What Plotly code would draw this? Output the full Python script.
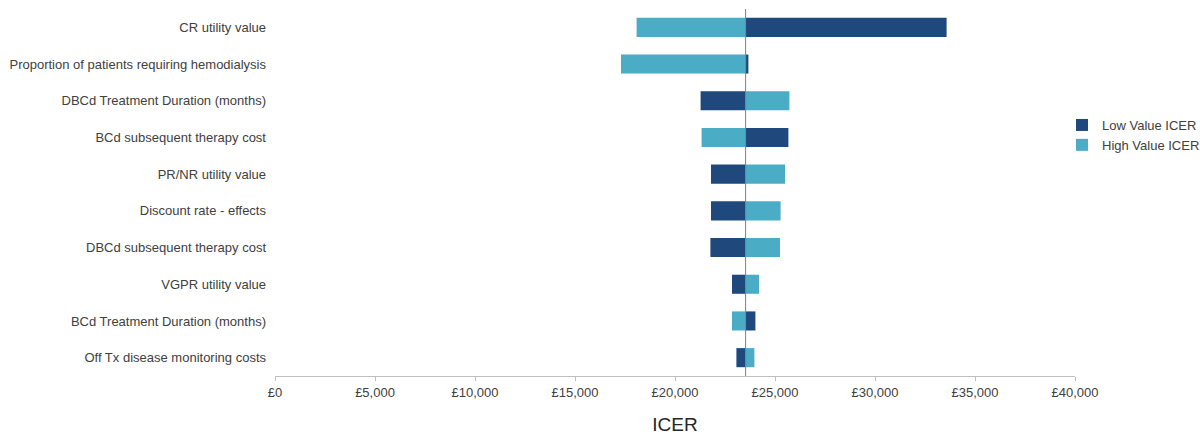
import plotly.graph_objects as go

# One-way sensitivity analysis (tornado) around the base-case ICER
parameters = [
    "CR utility value",
    "Proportion of patients requiring hemodialysis",
    "DBCd Treatment Duration (months)",
    "BCd subsequent therapy cost",
    "PR/NR utility value",
    "Discount rate - effects",
    "DBCd subsequent therapy cost",
    "VGPR utility value",
    "BCd Treatment Duration (months)",
    "Off Tx disease monitoring costs",
]
low_value_icer = [33580, 23670, 21280, 25670, 21800, 21800, 21770, 22850, 24020, 23070]
high_value_icer = [18080, 17300, 25720, 21330, 25500, 25280, 25250, 24200, 22850, 23970]
base_icer = 23530

x_tick_values = [0, 5000, 10000, 15000, 20000, 25000, 30000, 35000, 40000]
x_tick_labels = ["£0", "£5,000", "£10,000", "£15,000", "£20,000",
                 "£25,000", "£30,000", "£35,000", "£40,000"]

dark_blue = "#1F497D"
light_blue = "#4BACC6"
text_grey = "#404040"

fig = go.Figure()
fig.add_trace(go.Bar(
    name="Low Value ICER",
    y=parameters,
    x=[v - base_icer for v in low_value_icer],
    base=base_icer,
    orientation="h",
    marker=dict(color=dark_blue, line=dict(width=0)),
    width=0.52,
))
fig.add_trace(go.Bar(
    name="High Value ICER",
    y=parameters,
    x=[v - base_icer for v in high_value_icer],
    base=base_icer,
    orientation="h",
    marker=dict(color=light_blue, line=dict(width=0)),
    width=0.52,
))

# Base-case reference line
fig.add_shape(
    type="line", xref="x", yref="paper",
    x0=base_icer, x1=base_icer, y0=0, y1=1,
    line=dict(color="#7F7F7F", width=1),
)

fig.update_layout(
    width=1200, height=435,
    margin=dict(l=275, r=125, t=9, b=59, autoexpand=False),
    barmode="overlay",
    plot_bgcolor="white",
    paper_bgcolor="white",
    font=dict(family="Liberation Sans, Arial, sans-serif", size=13, color=text_grey),
    legend=dict(
        xref="container", yref="container",
        x=1062 / 1200, y=1 - 135 / 435, xanchor="left", yanchor="middle",
        font=dict(size=13, color=text_grey),
        itemwidth=30, tracegroupgap=0,
        bgcolor="rgba(0,0,0,0)",
    ),
    showlegend=True,
)
fig.update_xaxes(
    range=[0, 40000],
    tickvals=x_tick_values,
    ticktext=x_tick_labels,
    showgrid=False,
    zeroline=False,
    showline=True,
    linecolor="#BFBFBF",
    linewidth=1,
    ticks="outside",
    ticklen=4,
    tickcolor="#BFBFBF",
    tickfont=dict(size=13, color=text_grey),
    title=dict(text="ICER", font=dict(size=19, color="#262626"), standoff=24),
)
fig.update_yaxes(
    categoryorder="array",
    categoryarray=parameters[::-1],
    showgrid=False,
    zeroline=False,
    showline=False,
    ticks="",
    ticklabelstandoff=8,
    tickfont=dict(size=13, color=text_grey),
)

fig.write_html("out.html")
